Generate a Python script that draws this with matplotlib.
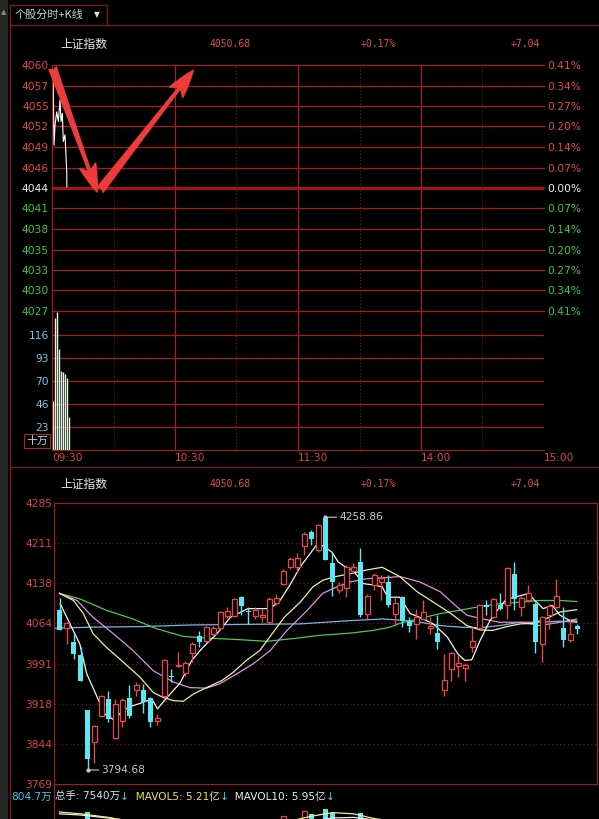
import numpy as np
import matplotlib
matplotlib.use('Agg')
import matplotlib.pyplot as plt
from matplotlib.patches import Rectangle

plt.rcParams['font.family'] = ['DejaVu Sans', 'Noto Sans CJK SC']

# ---------------- data ----------------
index_name = '上证指数'
prev_close = 4043.64
last_price = 4050.68

# intraday line (minutes after 09:30, price)
minute_t = [0.15, 0.64, 0.98, 1.47, 2.3, 3.08, 3.91, 4.4, 5.03, 5.52, 6.35, 7.18, 7.25]
minute_p = [4059.5, 4057.1, 4049.4, 4052.1, 4053.9, 4052.6, 4055.5, 4052.6, 4053.7, 4049.9, 4050.8, 4045.8, 4043.8]
minute_vol = [50, 133, 139, 102, 80, 79, 77, 73, 33]  # 十万

price_lbls = ['4060', '4057', '4055', '4052', '4049', '4046', '4044',
              '4041', '4038', '4035', '4033', '4030', '4027']
pct_lbls = ['0.41%', '0.34%', '0.27%', '0.20%', '0.14%', '0.07%', '0.00%',
            '0.07%', '0.14%', '0.20%', '0.27%', '0.34%', '0.41%']
vol_ticks = [23.3, 46.6, 69.9, 93.2, 116.5]
vol_lbls = ['23', '46', '70', '93', '116']
time_lbls = ['09:30', '10:30', '11:30', '14:00', '15:00']

# daily K line
k_open = [4088, 4056, 4029, 4005, 3905, 3846, 3894, 3926, 3854, 3885,
          3927, 3941, 3942, 3927, 3884, 3931, 3968, 3985, 3972, 4009,
          4040, 4031, 4045, 4055, 4077, 4077, 4112, 4086, 4077, 4075,
          4066, 4102, 4137, 4167, 4167, 4206, 4232, 4198, 4257, 4175,
          4125, 4128, 4160, 4177, 4082, 4134, 4140, 4140, 4082, 4112,
          4068, 4063, 4072, 4056, 4046, 3941, 3980, 3986, 3982, 4020,
          4056, 4097, 4075, 4097, 4097, 4155, 4094, 4106, 4100, 4027,
          4079, 4094, 4056, 4034, 4060]
k_high = [4110, 4067, 4045, 4020, 3905, 3878, 3933, 3939, 3926, 3927,
          3950, 3956, 3953, 3928, 3897, 3998, 3981, 4011, 3994, 4030,
          4050, 4060, 4060, 4086, 4094, 4110, 4115, 4094, 4094, 4091,
          4112, 4117, 4164, 4186, 4193, 4232, 4236, 4247, 4258.86, 4193,
          4140, 4171, 4175, 4202, 4118, 4156, 4152, 4152, 4112, 4115,
          4075, 4091, 4106, 4075, 4079, 4008, 4012, 4005, 3992, 4057,
          4099, 4107, 4111, 4119, 4167, 4177, 4115, 4134, 4103, 4077,
          4100, 4146, 4094, 4072, 4062]
k_low = [4051, 4027, 3998, 3959, 3794.68, 3808, 3892, 3882, 3852, 3873,
         3890, 3931, 3900, 3873, 3878, 3929, 3956, 3983, 3968, 3993,
         4021, 4029, 4040, 4053, 4074, 4076, 4079, 4063, 4072, 4066,
         4064, 4098, 4134, 4164, 4157, 4189, 4208, 4195, 4180, 4115,
         4119, 4112, 4157, 4076, 4072, 4125, 4106, 4094, 4060, 4057,
         4048, 4036, 4070, 4045, 4017, 3931, 3959, 3965, 3959, 4011,
         4055, 4079, 4073, 4088, 4072, 4088, 4077, 4104, 4009, 3993,
         4054, 4092, 4020, 4030, 4044]
k_close = [4051, 4064, 4008, 3959, 3815, 3876, 3931, 3888, 3915, 3924,
           3893, 3950, 3920, 3882, 3891, 3996, 3965, 3988, 3992, 4027,
           4029, 4057, 4055, 4084, 4087, 4108, 4096, 4084, 4088, 4080,
           4108, 4111, 4161, 4182, 4184, 4228, 4218, 4244, 4180, 4140,
           4134, 4168, 4168, 4079, 4114, 4152, 4148, 4097, 4101, 4069,
           4060, 4075, 4084, 4060, 4029, 3960, 4010, 3992, 3988, 4031,
           4097, 4094, 4109, 4091, 4165, 4109, 4111, 4119, 4029, 4075,
           4095, 4114, 4033, 4045, 4054]
k_vol = [6.5, 5.8, 6.2, 6.9, 8.55, 7.2, 6.0, 5.6, 6.1, 5.4,
         5.2, 4.8, 5.0, 5.5, 4.6, 6.4, 5.3, 5.0, 4.9, 5.6,
         5.2, 5.9, 5.1, 6.3, 5.8, 6.6, 6.2, 5.4, 5.2, 5.0,
         6.4, 6.0, 7.83, 7.2, 7.0, 8.72, 8.12, 7.1, 9.0, 8.38,
         6.6, 7.0, 6.4, 8.33, 6.8, 6.5, 6.2, 6.6, 6.0, 6.8,
         5.9, 6.1, 5.8, 5.4, 6.3, 7.0, 6.8, 5.9, 5.6, 7.1,
         7.0, 6.6, 6.9, 6.4, 7.2, 7.1, 6.0, 5.8, 7.2, 6.9,
         6.1, 6.5, 6.4, 5.7, 3.2]  # 亿
k_lbls = ['3769', '3844', '3918', '3991', '4064', '4138', '4211', '4285']

# moving averages (candle index, value)
ma5_x = [0.1, 2.9, 3.9, 5.3, 6.5, 7.9, 8.9, 10.1, 11.5, 13.2, 14.0, 15.3, 17.2, 18.9,
         20.5, 22.5, 24.4, 26.9, 30.1, 31.5, 32.9, 34.4, 35.8, 36.9, 37.9, 38.9, 39.8,
         41.1, 41.9, 43.4, 45.1, 46.1, 46.9, 48.6, 50.1, 51.5, 53.4, 55.4, 56.9, 57.9,
         58.9, 60.1, 61.5, 62.9, 63.9, 65.1, 67.0, 67.9, 69.1, 70.4, 71.5, 72.9, 73.9]
ma5_y = [4100, 4026, 3971, 3931, 3897, 3886, 3903, 3911, 3917, 3925, 3907, 3927, 3954, 3996,
         4020, 4045, 4075, 4091, 4091, 4106, 4134, 4168, 4192, 4211, 4204, 4195, 4177,
         4165, 4162, 4137, 4134, 4131, 4112, 4112, 4082, 4075, 4063, 4039, 4008, 3996,
         3997, 4033, 4069, 4094, 4109, 4112, 4119, 4106, 4091, 4097, 4079, 4069, 4068]
ma10_x = [0, 2.0, 3.4, 4.8, 6.7, 9.1, 11.5, 13.4, 14.8, 16.3, 17.7, 19.1, 21.0, 23.2,
          24.8, 26.7, 28.6, 30.1, 32.1, 34.4, 36.2, 37.6, 39.1, 41.5, 43.9, 46.1, 48.6,
          51.1, 53.4, 55.8, 58.2, 60.1, 61.9, 63.9, 65.8, 67.6, 69.6, 71.5, 73.9]
ma10_y = [4119, 4106, 4082, 4045, 4020, 3993, 3965, 3937, 3928, 3922, 3921, 3934, 3946, 3959,
          3974, 3996, 4014, 4040, 4075, 4103, 4131, 4143, 4149, 4155, 4162, 4167, 4150,
          4122, 4103, 4083, 4060, 4052, 4051, 4058, 4063, 4064, 4073, 4085, 4089]
ma20_x = [0, 2.5, 4.8, 7.7, 10.5, 13.4, 16.3, 18.6, 21.0, 22.9, 25.3, 27.7, 30.1, 32.5,
          35.4, 37.6, 39.1, 41.5, 43.9, 46.8, 48.6, 51.5, 54.4, 56.8, 58.2, 60.1, 62.9,
          68.6, 71.5, 73.9]
ma20_y = [4119, 4106, 4075, 4045, 4014, 3977, 3956, 3946, 3945, 3953, 3971, 3990, 4014, 4051,
          4088, 4119, 4128, 4140, 4146, 4148, 4150, 4140, 4122, 4094, 4079, 4073, 4066,
          4066, 4068, 4066]
ma60_x = [0, 2.9, 6.7, 10.5, 13.9, 17.7, 21.0, 25.8, 29.6, 33.4, 37.2, 41.5, 44.8, 47.2,
          48.6, 51.5, 54.4, 57.2, 60.1, 62.9, 65.8, 68.6, 71.5, 73.9]
ma60_y = [4119, 4109, 4088, 4072, 4054, 4040, 4037, 4034, 4031, 4036, 4042, 4046, 4051, 4057,
          4064, 4073, 4082, 4088, 4095, 4100, 4103, 4106, 4106, 4104]
ma120_x = [-0.7, 4.4, 11.5, 18.6, 25.8, 34.4, 41.5, 46.2, 48.6, 51.5, 54.4, 57.2, 60.1,
           62.9, 65.8, 68.6, 71.5, 73.9]
ma120_y = [4055, 4057, 4058, 4061, 4062, 4063, 4069, 4072, 4070, 4066, 4060, 4057, 4056,
           4060, 4066, 4060, 4066, 4072]

mavol5_x = [0, 3, 7, 12, 20, 28, 33, 36, 39, 42, 45, 50, 56, 60, 63, 66, 70, 74]
mavol5_y = [8.5, 8.2, 7.6, 6.5, 5.8, 6.0, 7.0, 7.8, 8.4, 8.2, 7.4, 6.6, 6.5, 7.0, 7.1, 7.0, 6.7, 6.4]
mavol10_x = [0, 3, 7, 12, 20, 28, 33, 36, 39, 42, 45, 50, 56, 60, 63, 66, 70, 74]
mavol10_y = [8.2, 8.0, 7.5, 6.8, 6.0, 5.9, 6.5, 7.0, 7.5, 7.6, 7.2, 6.8, 6.4, 6.7, 6.9, 7.0, 6.8, 6.6]

vol_now = '804.7万'
vol_total = '7540万'
mavol5_txt = '5.21亿'
mavol10_txt = '5.95亿'

# ---------------- style ----------------
GRID = '#a81c1c'
DOT = '#7a1c1c'
RED_T = '#e04848'
GRN_T = '#3cc83c'
CYAN = '#5ce8f2'
K_RED = '#e84a4a'
ARROW = '#ee3c3c'

W, H = 599, 819


def px_box(l, t, r, b):
    # pixel box -> figure fraction
    return [l / W, 1 - b / H, (r - l) / W, (b - t) / H]


fig = plt.figure(figsize=(W / 100, H / 100), dpi=100, facecolor='black')

# overlay in pixel coords for frame and captions
ov = fig.add_axes([0, 0, 1, 1])
ov.set_xlim(0, W)
ov.set_ylim(H, 0)
ov.axis('off')
ov.add_patch(Rectangle((0, 0), 8, H, color='#262626', lw=0))
ov.text(4, 12, '▲', color='#8a8a8a', fontsize=5, ha='center', va='center')
ov.plot([10, 10], [5, H], color='#7a1a1a', lw=1)
ov.plot([10, 107], [5, 5], color='#7a1a1a', lw=1)
ov.plot([107, 107], [5, 25], color='#7a1a1a', lw=1)
ov.plot([10, W], [25, 25], color='#7a1a1a', lw=1)
ov.plot([10, W], [467, 467], color='#7a1a1a', lw=1)
ov.text(15, 15, '个股分时+K线', color='#d0d0d0', fontsize=8,
        family=['Noto Sans CJK SC', 'DejaVu Sans'], va='center')
ov.text(97, 15, '▼', color='#e0e0e0', fontsize=5.5, ha='center', va='center')

for ypos in (44, 484):
    ov.text(60, ypos, index_name, color='#e8e8e8', fontsize=8.5,
            family=['Noto Sans CJK SC', 'DejaVu Sans'], va='center')
    ov.text(230, ypos, f'{last_price:.2f}', color='#e05050', fontsize=7,
            family='DejaVu Sans Mono', ha='center', va='center')
    ov.text(378, ypos, f'+{(last_price - prev_close) / prev_close * 100:.2f}%', color='#e05050',
            fontsize=7, family='DejaVu Sans Mono', ha='center', va='center')
    ov.text(525, ypos, f'+{last_price - prev_close:.2f}', color='#e05050', fontsize=7,
            family='DejaVu Sans Mono', ha='center', va='center')

ov.text(37, 441, '十万', color='#b0dcec', fontsize=7.8, ha='center', va='center',
        family=['Noto Sans CJK SC', 'DejaVu Sans'],
        bbox=dict(boxstyle='square,pad=0.18', fc='black', ec='#b02020', lw=0.8))

# ---------------- intraday price ----------------
ax = fig.add_axes(px_box(52, 65, 544, 311))
ax.set_facecolor('none')
lo, hi = prev_close * (1 - 0.0041), prev_close * (1 + 0.0041)
ax.set_xlim(0, 240)
ax.set_ylim(lo, hi)
levels = np.linspace(hi, lo, 13)
for v in levels:
    ax.axhline(v, color=GRID, lw=0.9, clip_on=False)
ax.axhline(prev_close, color='#a51414', lw=2.2)
for m in (60, 120, 180):
    ax.axvline(m, color=GRID, lw=0.9)
for m in (30, 90, 150, 210, 240):
    ax.axvline(m, color=DOT, lw=0.8, ls=(0, (1, 2)))
for s in ax.spines.values():
    s.set_visible(False)
ax.spines['left'].set_visible(True)
ax.spines['left'].set_color(GRID)
ax.set_xticks([])
ax.set_yticks(levels, price_lbls)
ax.tick_params(axis='y', length=0, pad=2.2, labelsize=7.7)
for k, lbl in enumerate(ax.get_yticklabels()):
    lbl.set_color(RED_T if k < 6 else ('#f0f0f0' if k == 6 else GRN_T))

ax2 = ax.twinx()
ax2.set_ylim(lo, hi)
ax2.set_yticks(levels, pct_lbls)
ax2.tick_params(axis='y', length=0, pad=2.2, labelsize=7.7)
for s in ax2.spines.values():
    s.set_visible(False)
for k, lbl in enumerate(ax2.get_yticklabels()):
    lbl.set_color(RED_T if k < 6 else ('#f0f0f0' if k == 6 else GRN_T))

ax.plot(minute_t, minute_p, color='white', lw=0.8)

# hand drawn arrows
arw = dict(arrowstyle='fancy,head_length=1.0,head_width=0.6,tail_width=0.28',
           color=ARROW, shrinkA=0, shrinkB=0, mutation_scale=20)
ax.annotate('', xy=(22.0, 4043.1), xytext=(0.3, 4059.8), arrowprops=arw)
ax.annotate('', xy=(68.9, 4059.5), xytext=(23.5, 4043.4), arrowprops=arw)

# ---------------- intraday volume ----------------
axv = fig.add_axes(px_box(52, 311, 544, 450))
axv.set_facecolor('none')
axv.set_xlim(0, 240)
axv.set_ylim(0, 140.5)
for v in vol_ticks:
    axv.axhline(v, color=GRID, lw=0.9)
for m in (60, 120, 180):
    axv.axvline(m, color=GRID, lw=0.9)
for m in (30, 90, 150, 210, 240):
    axv.axvline(m, color=DOT, lw=0.8, ls=(0, (1, 2)))
axv.vlines(np.arange(len(minute_vol)) + 0.3, 0, minute_vol, color='#e2f6e2', lw=1.0)
for s in axv.spines.values():
    s.set_visible(False)
for side in ('left', 'bottom'):
    axv.spines[side].set_visible(True)
    axv.spines[side].set_color(GRID)
axv.set_yticks(vol_ticks, vol_lbls)
axv.tick_params(axis='y', length=0, pad=2.2, labelsize=7.7, labelcolor='#7cc4e4')
axv.set_xticks([0, 60, 120, 180, 240], time_lbls)
axv.tick_params(axis='x', length=0, pad=2.5, labelsize=7.6, labelcolor='#dc4646')
for lbl in axv.get_xticklabels():
    lbl.set_ha('left')

# ---------------- daily K line ----------------
axk = fig.add_axes(px_box(54, 503, 597, 784))
axk.set_facecolor('none')
axk.set_xlim(-0.786, 76.79)
axk.set_ylim(3769, 4285)
kt = np.linspace(3769, 4285, 8)
for v in kt[1:-1]:
    axk.axhline(v, color=DOT, lw=0.8, ls=(0, (1, 2.5)))
for s in axk.spines.values():
    s.set_color(GRID)
axk.set_xticks([])
axk.set_yticks(kt, k_lbls)
axk.tick_params(axis='y', length=0, pad=1.2, labelsize=7.7, labelcolor='#d84444')

o = np.array(k_open, dtype=float)
c = np.array(k_close, dtype=float)
hh = np.array(k_high, dtype=float)
ll = np.array(k_low, dtype=float)
xi = np.arange(len(o))
up = c >= o
b_lo = np.minimum(o, c)
b_hi = np.maximum(o, c)

# moving averages under the candles
axk.plot(ma120_x, ma120_y, color='#78b6e0', lw=0.9)
axk.plot(ma60_x, ma60_y, color='#52c852', lw=0.9)
axk.plot(ma20_x, ma20_y, color='#e090e0', lw=0.9)
axk.plot(ma10_x, ma10_y, color='#eeeea0', lw=0.9)
axk.plot(ma5_x, ma5_y, color='#f4f4f4', lw=0.9)

axk.vlines(xi[~up], ll[~up], hh[~up], color=CYAN, lw=1.0, zorder=3)
axk.bar(xi[~up], np.maximum(b_hi - b_lo, 1.5)[~up], bottom=b_lo[~up], width=0.72,
        color=CYAN, lw=0, zorder=4)
axk.vlines(xi[up], b_hi[up], hh[up], color=K_RED, lw=1.0, zorder=3)
axk.vlines(xi[up], ll[up], b_lo[up], color=K_RED, lw=1.0, zorder=3)
axk.bar(xi[up], np.maximum(b_hi - b_lo, 1.5)[up], bottom=b_lo[up], width=0.6,
        facecolor='black', edgecolor=K_RED, lw=0.9, zorder=4)

# extremes
i_hi = int(np.argmax(hh))
i_lo = int(np.argmin(ll))
for i, val in ((i_hi, hh[i_hi]), (i_lo, ll[i_lo])):
    axk.plot(i, val, 'o', color='#c8c8c8', ms=2, zorder=5)
    axk.annotate(f'{val:.2f}', xy=(i, val), xytext=(10, 0), textcoords='offset points',
                 color='#c8c8c8', fontsize=7.7, va='center', ha='left',
                 arrowprops=dict(arrowstyle='-', color='#c8c8c8', lw=0.8, shrinkA=0, shrinkB=0))

# ---------------- volume strip at the bottom ----------------
axb = fig.add_axes(px_box(54, 784, 597, 863))
axb.set_facecolor('none')
axb.set_xlim(-0.786, 76.79)
axb.set_ylim(0, 13.17)
for s in axb.spines.values():
    s.set_visible(False)
axb.spines['left'].set_visible(True)
axb.spines['left'].set_color(GRID)
axb.set_xticks([])
axb.set_yticks([])
kv = np.array(k_vol)
axb.bar(xi[~up], kv[~up], width=0.72, color=CYAN, lw=0)
axb.bar(xi[up], kv[up], width=0.6, facecolor='black', edgecolor=K_RED, lw=0.9)
axb.plot(mavol10_x, mavol10_y, color='#f0f0f0', lw=0.9)
axb.plot(mavol5_x, mavol5_y, color='#eeee90', lw=0.9)

ov.text(52, 797, vol_now, color='#4cc6e6', fontsize=7.6, ha='right', va='center')
rend = fig.canvas.get_renderer()
parts = [('总手: ' + vol_total, '#bfe6ee'), ('↓', '#4cc6e6'),
         ('  MAVOL5: ' + mavol5_txt, '#e6e65a'), ('↓', '#4cc6e6'),
         ('  MAVOL10: ' + mavol10_txt, '#ececec'), ('↓', '#4cc6e6')]
x0 = 55
for s, col in parts:
    t = ov.text(x0, 797, s, color=col, fontsize=7.6, ha='left', va='center')
    x0 += t.get_window_extent(rend).width

fig.savefig('out.png', dpi=100, facecolor='black')
